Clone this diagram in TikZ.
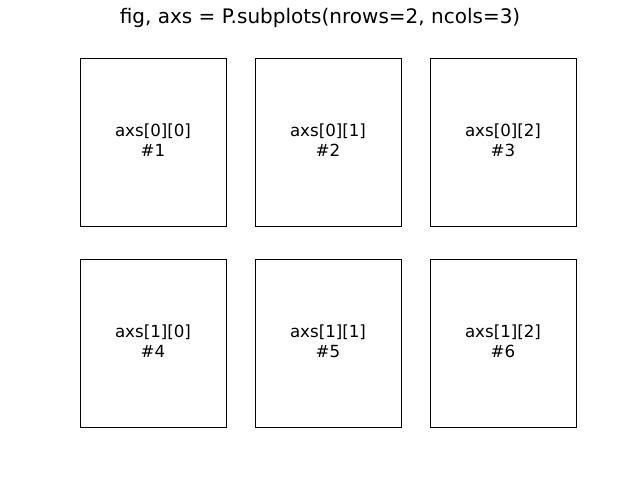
\documentclass[tikz,border=0pt]{standalone}
\usepackage{fontspec}
\setmainfont{DejaVu Sans}
\begin{document}
\begin{tikzpicture}[x=1pt,y=-1pt,
  axbox/.style={draw=black,line width=1pt,minimum width=146pt,minimum height=168pt,inner sep=0pt},
  axlabel/.style={inner sep=0pt,align=center,yshift=2pt,font=\fontsize{16.67}{20}\selectfont},
  titletext/.style={inner sep=0pt,font=\fontsize{20}{24}\selectfont}]
\useasboundingbox (0,0) rectangle (640,480);
\node[titletext] (title) at (320,18) {fig, axs = P.subplots(nrows=2, ncols=3)};
\node[axbox] (a00) at (153,142) {};
\node[axbox] (a01) at (328,142) {};
\node[axbox] (a02) at (503,142) {};
\node[axbox] (a10) at (153,343) {};
\node[axbox] (a11) at (328,343) {};
\node[axbox] (a12) at (503,343) {};
\node[axlabel] (l00) at (a00.center) {axs[0][0]\\\#1};
\node[axlabel] (l01) at (a01.center) {axs[0][1]\\\#2};
\node[axlabel] (l02) at (a02.center) {axs[0][2]\\\#3};
\node[axlabel] (l10) at (a10.center) {axs[1][0]\\\#4};
\node[axlabel] (l11) at (a11.center) {axs[1][1]\\\#5};
\node[axlabel] (l12) at (a12.center) {axs[1][2]\\\#6};
\end{tikzpicture}
\end{document}
